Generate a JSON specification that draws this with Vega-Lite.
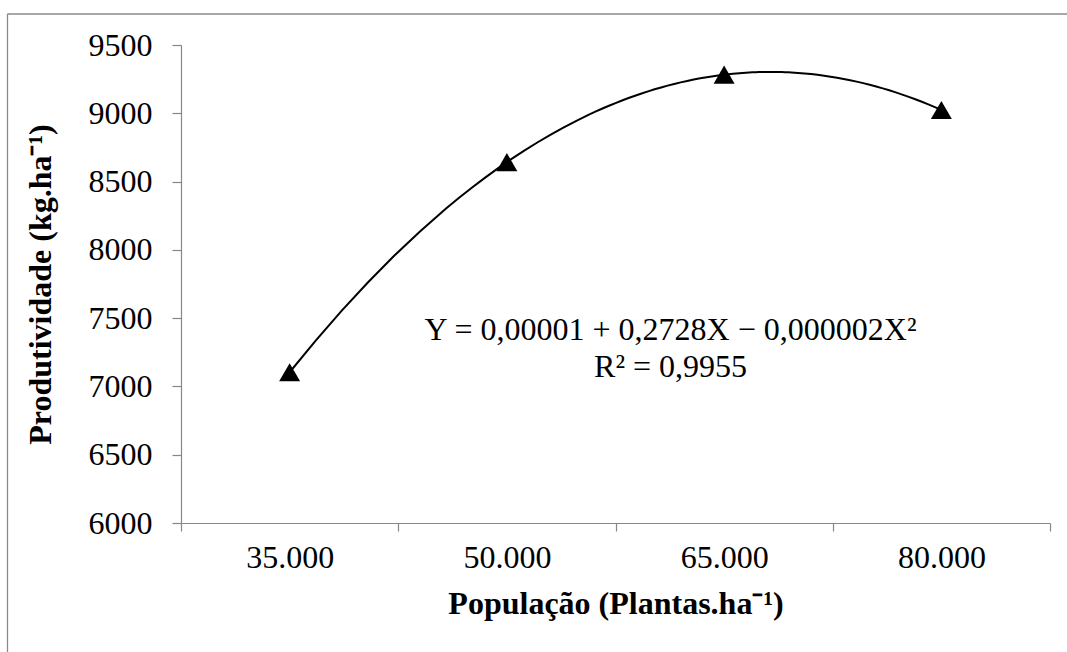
{
  "$schema": "https://vega.github.io/schema/vega-lite/v6.json",
  "width": 869,
  "height": 478,
  "autosize": {"type": "none"},
  "padding": {"left": 181, "top": 45, "right": 17, "bottom": 129},
  "background": "white",
  "config": {
    "view": {"stroke": null},
    "font": "Liberation Serif",
    "axis": {
      "domainColor": "#878787",
      "tickColor": "#878787",
      "domainWidth": 1.2,
      "tickWidth": 1.2,
      "grid": false,
      "labelColor": "black",
      "titleColor": "black",
      "labelFont": "Liberation Serif",
      "titleFont": "Liberation Serif"
    }
  },
  "data": {
    "values": [
      {"populacao": 35000, "produtividade": 7104},
      {"populacao": 50000, "produtividade": 8642},
      {"populacao": 65000, "produtividade": 9283},
      {"populacao": 80000, "produtividade": 9024}
    ]
  },
  "layer": [
    {
      "data": {"values": [{}]},
      "mark": {"type": "rule", "color": "#8a8a8a", "strokeWidth": 1.3},
      "encoding": {
        "x": {"datum": 15520, "type": "quantitative"},
        "x2": {"datum": 100000},
        "y": {"datum": 9727, "type": "quantitative"}
      }
    },
    {
      "data": {"values": [{}]},
      "mark": {"type": "rule", "color": "#8a8a8a", "strokeWidth": 1.3},
      "encoding": {
        "x": {"datum": 15520, "type": "quantitative"},
        "y": {"datum": 9727, "type": "quantitative"},
        "y2": {"datum": 4000}
      }
    },
    {
      "transform": [
        {
          "regression": "produtividade",
          "on": "populacao",
          "method": "poly",
          "order": 2,
          "extent": [35000, 80000]
        }
      ],
      "mark": {"type": "line", "color": "black", "strokeWidth": 2},
      "encoding": {
        "x": {"field": "populacao", "type": "quantitative"},
        "y": {"field": "produtividade", "type": "quantitative"}
      }
    },
    {
      "mark": {
        "type": "point",
        "shape": "triangle-up",
        "filled": true,
        "color": "black",
        "opacity": 1,
        "size": 440
      },
      "encoding": {
        "x": {
          "field": "populacao",
          "type": "quantitative",
          "scale": {"domain": [27500, 87500], "nice": false, "zero": false},
          "axis": {
            "values": [27500, 35000, 42500, 50000, 57500, 65000, 72500, 80000, 87500],
            "labelExpr": "datum.value % 15000 == 5000 ? replace(format(datum.value, ','), ',', '.') : ''",
            "tickOpacity": {"condition": {"test": "datum.value % 15000 == 5000", "value": 0}, "value": 1},
            "tickSize": 8,
            "labelFontSize": 32,
            "labelPadding": 11,
            "labelFlush": false,
            "labelOverlap": false,
            "title": "População (Plantas.ha⁻¹)",
            "titleFontSize": 32,
            "titleFontWeight": "bold",
            "titleBaseline": "alphabetic",
            "titleX": 434.5,
            "titleY": 90
          }
        },
        "y": {
          "field": "produtividade",
          "type": "quantitative",
          "scale": {"domain": [6000, 9500], "nice": false, "zero": false},
          "axis": {
            "values": [6000, 6500, 7000, 7500, 8000, 8500, 9000, 9500],
            "format": "d",
            "tickSize": 9,
            "labelFontSize": 32,
            "labelPadding": 20,
            "title": "Produtividade (kg.ha⁻¹)",
            "titleFontSize": 32,
            "titleFontWeight": "bold",
            "titleBaseline": "alphabetic",
            "titleAngle": -90,
            "titleX": -131,
            "titleY": 239
          }
        }
      }
    },
    {
      "data": {"values": [{}]},
      "mark": {
        "type": "text",
        "font": "Liberation Serif",
        "fontSize": 32,
        "color": "black",
        "align": "center",
        "baseline": "alphabetic",
        "lineHeight": 37
      },
      "encoding": {
        "x": {"datum": 61300, "type": "quantitative"},
        "y": {"datum": 7341, "type": "quantitative"},
        "text": {"value": ["Y = 0,00001 + 0,2728X − 0,000002X²", "R² = 0,9955"]}
      }
    }
  ]
}
